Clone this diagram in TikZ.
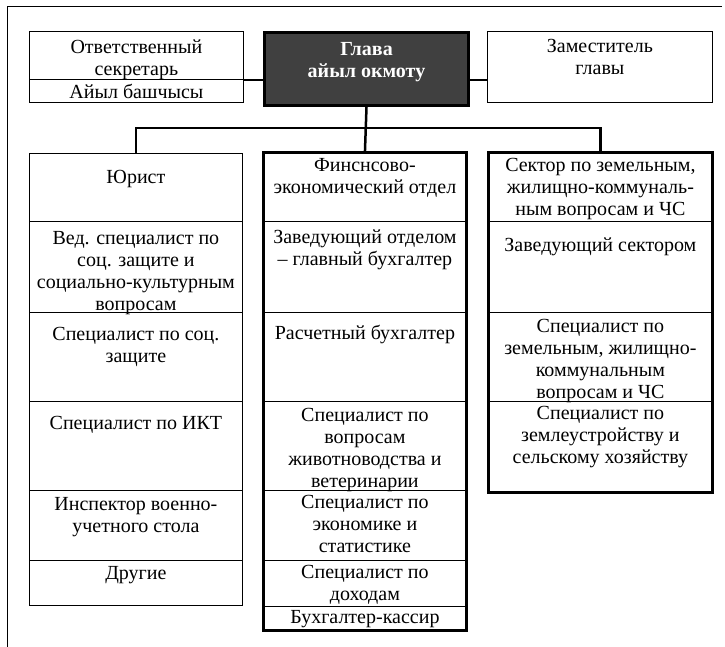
\documentclass[tikz,border=0pt]{standalone}
\usepackage{fontspec}
\setmainfont{Liberation Serif}
\newfontfamily\cellfont{Liberation Serif}
\usepackage{xcolor}
\usepackage{tikz}
\definecolor{headgray}{RGB}{64,64,64}

\begin{document}
\begin{tikzpicture}[x=1pt, y=-1pt,
  cell/.style n args={3}{draw, line width=0.8pt, anchor=north west, inner sep=0pt,
    minimum width=#1, minimum height=#2, font=\cellfont\fontsize{20}{22}\selectfont,
    execute at begin node={\begin{minipage}[c][#2][t]{#1}\centering\vspace*{#3}\strut},
    execute at end node={\end{minipage}}},
  conn/.style={line width=2.5pt},
  heavy/.style={line width=3pt}]
\useasboundingbox (0,0) rectangle (725,647);
\draw[line width=0.8pt] (7,647) -- (7,6) -- (722,6);
% top row
\node[cell={214pt}{48pt}{7pt}] (secr) at (29,31) {Ответственный\\секретарь};
\node[cell={214pt}{23pt}{4pt}] (bash) at (29,79) {Айыл башчысы};
\node[cell={225pt}{71pt}{6pt}] (dep) at (487,31) {Заместитель\\главы};
\node[cell={204pt}{73pt}{8pt}, heavy, fill=headgray, text=white, font=\cellfont\fontsize{20}{22}\selectfont\bfseries] (head) at (263,31) {Глава\\айыл окмоту};
% left column
\node[cell={213pt}{68pt}{15pt}] (l1) at (29,153) {Юрист};
\node[cell={213pt}{91pt}{8pt}] (l2) at (29,221) {Вед. специалист по\\соц. защите и\\социально-культурным\\вопросам};
\node[cell={213pt}{89pt}{13pt}] (l3) at (29,312) {Специалист по соц.\\защите};
\node[cell={213pt}{89pt}{13pt}] (l4) at (29,401) {Специалист по ИКТ};
\node[cell={213pt}{70pt}{5pt}] (l5) at (29,490) {Инспектор военно-\\учетного стола};
\node[cell={213pt}{45pt}{4pt}] (l6) at (29,560) {Другие};
% middle column
\node[cell={203pt}{68pt}{3pt}] (m1) at (263,153) {Финснсово-\\экономический отдел};
\node[cell={203pt}{91pt}{7pt}] (m2) at (263,221) {Заведующий отделом\\– главный бухгалтер};
\node[cell={203pt}{89pt}{12pt}] (m3) at (263,312) {Расчетный бухгалтер};
\node[cell={203pt}{89pt}{5pt}] (m4) at (263,401) {Специалист по\\вопросам\\животноводства и\\ветеринарии};
\node[cell={203pt}{70pt}{3pt}] (m5) at (263,490) {Специалист по\\экономике и\\статистике};
\node[cell={203pt}{46pt}{3pt}] (m6) at (263,560) {Специалист по\\доходам};
\node[cell={203pt}{24pt}{2pt}] (m7) at (263,606) {Бухгалтер-кассир};
% right column
\node[cell={224pt}{68pt}{3pt}] (r1) at (488,153) {Сектор по земельным,\\жилищно-коммуналь-\\ным вопросам и ЧС};
\node[cell={224pt}{91pt}{15pt}] (r2) at (488,221) {Заведующий сектором};
\node[cell={224pt}{89pt}{5pt}] (r3) at (488,312) {Специалист по\\земельным, жилищно-\\коммунальным\\вопросам и ЧС};
\node[cell={224pt}{91pt}{3pt}] (r4) at (488,401) {Специалист по\\землеустройству и\\сельскому хозяйству};
\draw[heavy] (m1.north west) rectangle (m7.south east);
\draw[heavy] (r1.north west) rectangle (r4.south east);
% connectors
\draw[conn] (secr.south east) -- (secr.south east -| head.west);
\draw[conn] (head.east |- secr.south east) -- (dep.west |- secr.south east);
\coordinate (bus) at (365,128);
\draw[conn] (head.south) -- (m1.north);
\draw[conn] (l1.north) |- (bus) -| (r1.north);
\end{tikzpicture}
\end{document}
